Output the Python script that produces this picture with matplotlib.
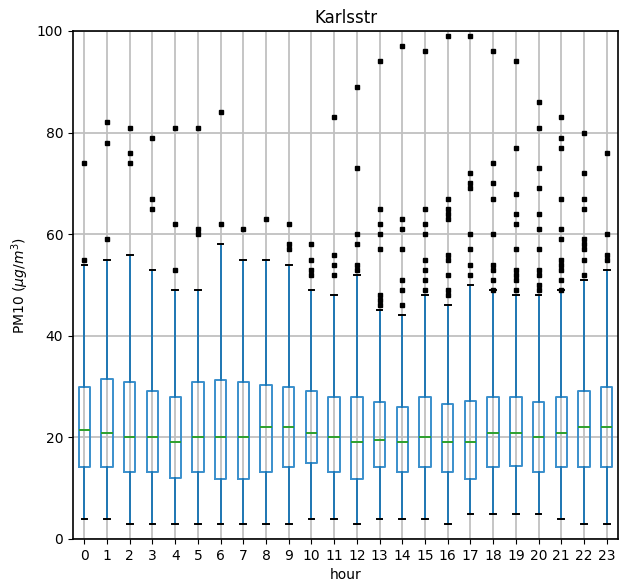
import matplotlib
matplotlib.use('Agg')
import matplotlib.pyplot as plt

# Box statistics per hour of day
hours = list(range(24))
q1 = [14.1, 14.1, 13.1, 13.1, 12.1, 13.1, 11.9, 11.9, 13.1, 14.1, 15.0, 13.1,
      11.9, 14.1, 13.1, 14.1, 13.1, 11.9, 14.1, 14.4, 13.1, 14.1, 14.1, 14.1]
med = [21.4, 20.9, 20.0, 20.0, 19.0, 20.0, 20.0, 20.0, 22.0, 22.0, 20.9, 20.0,
       19.0, 19.5, 19.0, 20.0, 19.0, 19.0, 20.9, 20.9, 20.0, 20.9, 22.0, 22.0]
q3 = [29.9, 31.5, 31.0, 29.1, 28.0, 31.0, 31.3, 31.0, 30.4, 29.9, 29.1, 28.0,
      28.0, 26.9, 26.0, 28.0, 26.6, 27.2, 28.0, 28.0, 26.9, 28.0, 29.1, 29.9]
whis_lo = [4, 4, 3, 3, 3, 3, 3, 3, 3, 3, 4, 4,
           3, 4, 4, 4, 3, 5, 5, 5, 5, 4, 3, 3]
whis_hi = [54, 55, 56, 53, 49, 49, 58, 55, 55, 54, 49, 48,
           52, 45, 44, 48, 46, 50, 49, 48, 48, 49, 51, 53]
fliers = [
    [74, 55],
    [82, 78, 59],
    [81, 76, 74],
    [79, 67, 65],
    [81, 62, 53],
    [81, 61, 60],
    [84, 62],
    [61],
    [63],
    [62, 58, 57],
    [58, 55, 53, 52],
    [83, 56, 54, 52],
    [89, 73, 60, 58, 54, 53],
    [94, 65, 62, 60, 57, 48, 47, 46],
    [97, 63, 61, 57, 51, 49, 46],
    [96, 65, 62, 60, 55, 53, 51, 49],
    [99, 67, 65, 64, 63, 56, 55, 52, 49, 48],
    [99, 72, 70, 69, 60, 57, 54, 52],
    [96, 74, 70, 67, 60, 54, 53, 51, 49],
    [94, 77, 68, 64, 62, 57, 53, 52, 51, 49],
    [86, 81, 73, 69, 64, 61, 57, 53, 52, 50, 49],
    [83, 79, 77, 67, 61, 59, 55, 54, 53, 51, 49],
    [80, 72, 67, 65, 59, 58, 57, 55, 52],
    [76, 60, 56, 55],
]

stats = []
for i, h in enumerate(hours):
    stats.append({
        'label': str(h),
        'q1': q1[i], 'med': med[i], 'q3': q3[i],
        'whislo': whis_lo[i], 'whishi': whis_hi[i],
        'fliers': fliers[i],
    })

fig = plt.figure(figsize=(6.23, 5.87), dpi=100)
ax = fig.add_axes([0.1172, 0.0818, 0.8748, 0.8654])

lw = 1.4
ax.bxp(stats, positions=range(1, 25), widths=0.5,
       boxprops=dict(color='#3a8fcc', linewidth=lw),
       whiskerprops=dict(color='#1f77b4', linewidth=lw),
       capprops=dict(color='k', linewidth=lw),
       medianprops=dict(color='#2ca02c', linewidth=lw),
       flierprops=dict(marker='s', markersize=2.5, markerfacecolor='k',
                       markeredgecolor='k', linestyle='none'))

ax.set_ylim(0, 100)
ax.set_xlim(0.5, 24.5)
ax.grid(True, color='#c0c0c0', linewidth=1.3)
ax.set_axisbelow(True)
for s in ax.spines.values():
    s.set_linewidth(1.2)
ax.set_title('Karlsstr')
ax.set_xlabel('hour')
ax.set_ylabel(r'PM10 ($\mu g/m^3$)')

plt.savefig('out.png')
